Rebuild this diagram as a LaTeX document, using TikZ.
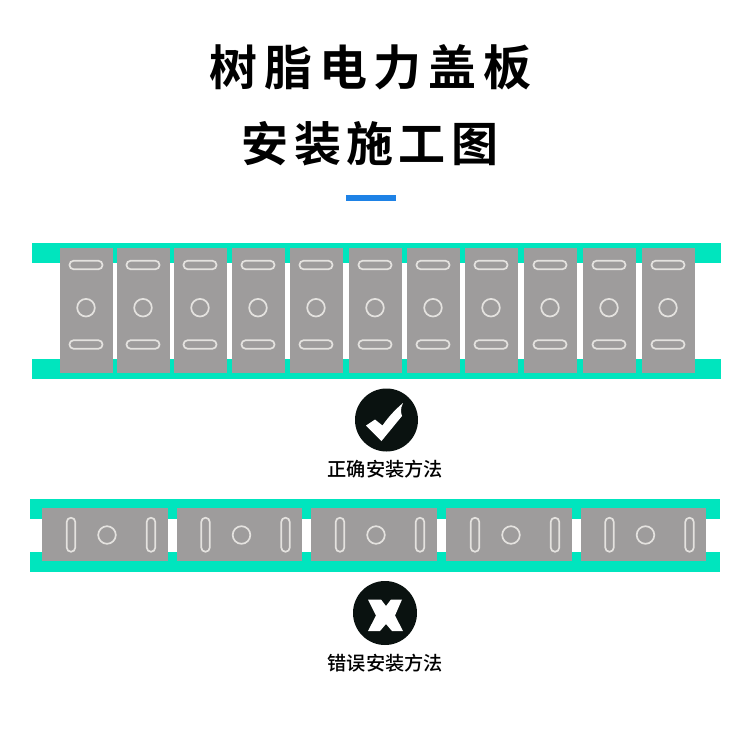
\documentclass[tikz,border=0pt]{standalone}
\usepackage{fontspec}
\newfontfamily\cjktitleA[LetterSpace=14]{Noto Sans CJK SC Bold}
\newfontfamily\cjktitleB[LetterSpace=11.5]{Noto Sans CJK SC Bold}
\newfontfamily\cjklabel{Noto Sans CJK SC Medium}
\definecolor{railc}{HTML}{00E5BE}
\definecolor{platec}{HTML}{9E9C9C}
\definecolor{slotc}{HTML}{E4E2DF}
\definecolor{barc}{HTML}{1E82E6}
\definecolor{iconc}{HTML}{0A1210}
\tikzset{
  rail/.style={fill=railc,draw=none},
  plate/.style={fill=platec,draw=none},
  hole/.style={draw=slotc,line width=1.7pt,fill=platec},
  titleA/.style={font=\cjktitleA\fontsize{48}{52}\selectfont,text=black,inner sep=0pt},
  titleB/.style={font=\cjktitleB\fontsize{47}{51}\selectfont,text=black,inner sep=0pt},
  caption/.style={font=\cjklabel\fontsize{19.2}{22}\selectfont,text=black,inner sep=0pt},
  icon/.style={circle,fill=iconc,draw=none,inner sep=0pt}
}
\newcommand{\hplate}[1]{%
  \fill[plate] (#1-26.5,248) rectangle (#1+26.5,372.5);
  \draw[hole,rounded corners=4pt] (#1-16.5,260.8) rectangle (#1+16.5,269.2);
  \draw[hole,rounded corners=4pt] (#1-16.5,340.3) rectangle (#1+16.5,348.7);
  \draw[hole] (#1,307.7) circle (8.8);
}
\newcommand{\vplate}[1]{%
  \fill[plate] (#1-62.8,508) rectangle (#1+62.8,561);
  \draw[hole,rounded corners=4pt] (#1-38.2,517.8) rectangle (#1-29.8,551.7);
  \draw[hole,rounded corners=4pt] (#1+41.8,517.8) rectangle (#1+50.2,551.7);
  \draw[hole] (#1+2,535) circle (8.8);
}
\begin{document}
\begin{tikzpicture}[x=1pt,y=-1pt]
\useasboundingbox (0,0) rectangle (750,750);
\fill[white] (0,0) rectangle (750,750);
\node[titleA] (t1) at (370.5,67) {树脂电力盖板};
\node[titleB] (t2) at (370,144) {安装施工图};
\fill[barc] (346,195) rectangle (396,201);
% top assembly
\fill[rail] (32,243) rectangle (721,263);
\fill[rail] (32,359) rectangle (721,379);
\foreach \c in {86,143,200,258,316,375,433,491,550,609,668} {\hplate{\c}}
% check icon
\node[icon,minimum size=63pt] (ok) at (386.5,420) {};
\fill[white] (366,425.5) -- (375,419.5) -- (382.5,425.5) .. controls (389,416) and (396,409) .. (403,403) .. controls (400,409) and (401,413) .. (402,416) -- (381.5,441) -- cycle;
\node[caption] (okl) at (385.3,469) {正确安装方法};
% bottom assembly
\fill[rail] (30,499) rectangle (720,519);
\fill[rail] (30,552) rectangle (720,572);
\foreach \c in {105,239.5,374,509,643.5} {\vplate{\c}}
% cross icon
\node[icon,minimum size=64pt] (no) at (385,613) {};
\fill[white] (368,599.5) -- (381,599.5) -- (386,606) -- (391,599.5) -- (402,599.5) -- (395,615.5) -- (403,631) -- (392,631) -- (386,624) -- (380,631) -- (368,631) -- (376,615.5) -- cycle;
\node[caption] (nol) at (385.3,663) {错误安装方法};
\end{tikzpicture}
\end{document}
